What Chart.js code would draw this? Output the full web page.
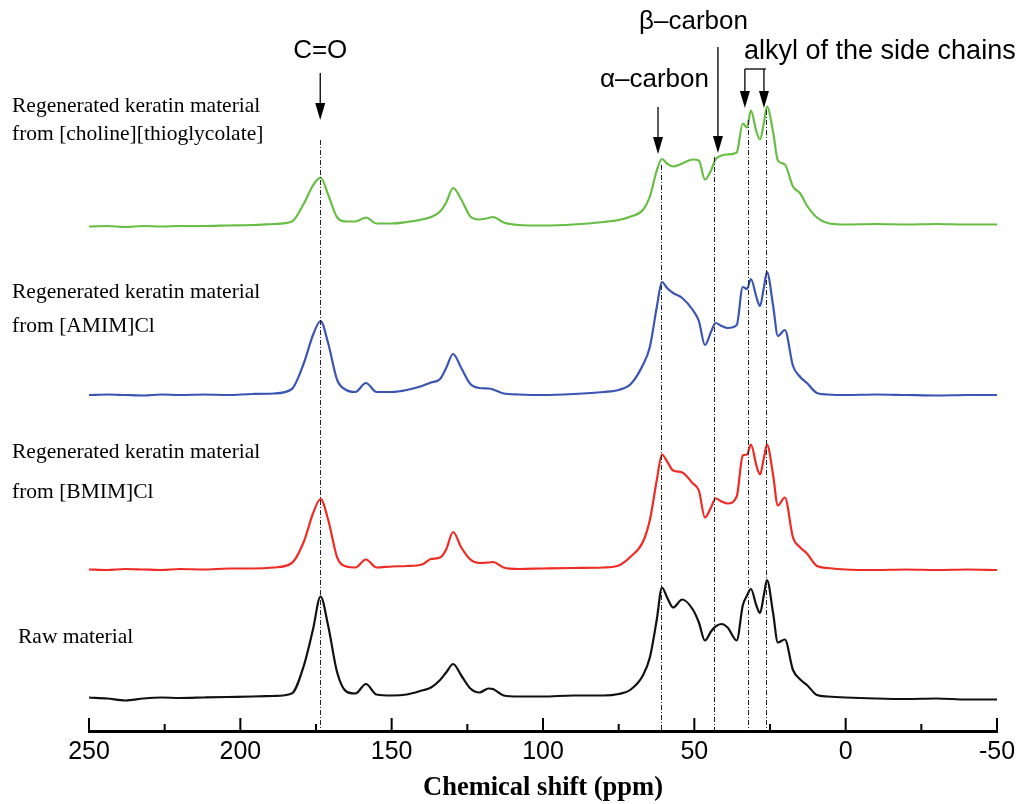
<!DOCTYPE html>
<html>
<head>
<meta charset="utf-8">
<script src="https://cdn.jsdelivr.net/npm/chart.js@4/dist/chart.umd.min.js"></script>
<style>
  html, body { margin:0; padding:0; background:#fff; }
</style>
</head>
<body>
<canvas id="nmr-chart" width="1019" height="804"></canvas>
<script>

// chemical shift grid (ppm) shared by all four spectra
let ppm = [250, 244, 238, 232, 226, 220, 212, 204, 196, 189,
  183, 179, 176, 173.5, 171, 168, 165, 162, 158.5, 155,
  150, 145, 140, 137, 134, 132, 129.7, 127, 124, 121,
  118, 116.5, 113, 108, 100, 90, 80, 75, 71, 67,
  64.7, 62.4, 60.7, 59, 57, 54, 50.5, 48.5, 46.5, 44.5,
  43, 41, 39, 36, 34, 32.6, 31.3, 29.5, 28.3, 27,
  26, 24, 22.4, 20.1, 17.4, 15, 12.8, 9.5, 6, 0,
  -10, -20, -30, -40, -50];

// intensities above each baseline (arbitrary units)
let rawMaterial = [0, -1, -3, -1, 0, -0.5, 0, 0.5, 1, 1.5,
  4, 32, 68, 101, 72, 25, 6, 4, 13.5, 3,
  2, 3, 7, 10, 17.5, 25, 33.5, 22, 9, 5,
  9, 8.5, 2, 1, 1, 2, 2, 3.5, 8, 22,
  40, 78, 110, 100, 90, 98, 88, 75, 57, 66,
  71, 73.5, 70, 57, 92, 102, 108.5, 92, 84.5, 103,
  117.5, 85, 55, 58, 27.5, 18, 12.5, 2.5, 1, 0,
  -1, -1.5, -1, -2, -2];

let bmimCl = [0, -0.5, 0.5, 0, -0.5, 0.5, 0, 1, 1, 2,
  6.5, 28, 56, 70.5, 50, 12, 3, 2, 10, 2,
  3, 3.5, 5, 10.5, 12, 20, 37.5, 22, 10, 6.5,
  7, 7.5, 2, 0.5, 1, 1.5, 2, 4, 13, 27.5,
  49.5, 89.5, 115, 108, 99, 97, 86, 79, 52, 62,
  71, 68, 66, 73, 114, 115, 125, 104, 95, 112,
  125, 95, 64, 72, 32, 22, 16, 3.5, 1.5, 0,
  -0.5, 0, -0.5, 0, -0.5];

let amimCl = [0, 0.5, 0, -0.5, 0.5, 0, 0.5, 0, 1, 1.5,
  6, 32, 60, 74, 52, 15, 5, 3, 12, 3,
  3, 5, 9, 12.5, 16, 27, 41, 27, 11, 7,
  6.5, 5.5, 1.5, 0.5, 0, 1, 3, 5, 11, 30,
  48, 88, 113, 107, 102, 97, 85, 74, 50, 63,
  72, 69, 67, 70, 108, 106, 116, 98, 89, 108,
  123, 90, 59, 65, 29, 18, 12, 2, 0.5, 0,
  0.5, 0, -0.5, 0, 0];

let cholineThio = [0, 0.5, -0.5, 0.5, 0, 0.5, 0.5, 1, 1.5, 2.5,
  5, 23, 41, 49, 32, 9, 5, 5, 9, 3,
  3, 4.5, 7, 9.5, 15, 24, 38.5, 27, 10, 7,
  8.5, 9.5, 4, 1.5, 1, 2, 4.5, 6.5, 10, 16.5,
  30, 56, 67.5, 63, 60, 63, 67, 66, 47, 56,
  67, 71, 72, 74, 103, 99, 116, 95, 87, 104,
  120, 95, 66, 62, 40, 33, 21, 9, 3.5, 2,
  2.5, 2, 2.5, 2, 2];

let majorTicks = [250, 200, 150, 100, 50, 0, -50];

// vertical stacking of the traces
let stackOffset = { raw: 33.5, bmim: 161.5, amim: 336, choline: 504.5 };

function toPoints(values, offset){
  let pts = [];
  for(let i = 0; i < ppm.length; i++){
    pts.push({ x: ppm[i], y: values[i] + offset });
  }
  return pts;
}

function drawArrow(ctx, x, y1, y2){
  ctx.beginPath();
  ctx.moveTo(x, y1);
  ctx.lineTo(x, y2 - 14);
  ctx.stroke();
  ctx.beginPath();
  ctx.moveTo(x - 5, y2 - 17);
  ctx.lineTo(x + 5, y2 - 17);
  ctx.lineTo(x, y2);
  ctx.closePath();
  ctx.fill();
}

let marksPlugin = {
  id: 'nmrMarks',
  afterDraw(chart){
    let ctx = chart.ctx;
    let xs = chart.scales.x;
    let area = chart.chartArea;
    ctx.save();

    // ticks point up into the plot
    ctx.strokeStyle = '#000';
    ctx.lineWidth = 2;
    xs.ticks.forEach(function(t){
      let px = xs.getPixelForValue(t.value);
      let len = majorTicks.includes(t.value) ? 13 : 7;
      ctx.beginPath();
      ctx.moveTo(px, area.bottom);
      ctx.lineTo(px, area.bottom - len);
      ctx.stroke();
    });

    // dash-dot guide lines
    let guides = [[173.6, 140], [61, 165], [43.5, 157], [32.2, 120], [26.3, 110]];
    ctx.lineWidth = 1;
    ctx.strokeStyle = '#222';
    ctx.setLineDash([5, 2, 1, 2]);
    guides.forEach(function(g){
      let px = Math.round(xs.getPixelForValue(g[0])) + 0.5;
      ctx.beginPath();
      ctx.moveTo(px, g[1]);
      ctx.lineTo(px, area.bottom);
      ctx.stroke();
    });
    ctx.setLineDash([]);

    // arrows
    ctx.strokeStyle = '#000';
    ctx.fillStyle = '#000';
    ctx.lineWidth = 1.3;
    drawArrow(ctx, xs.getPixelForValue(173.6), 73, 120);
    drawArrow(ctx, xs.getPixelForValue(62), 107, 154);
    drawArrow(ctx, xs.getPixelForValue(42.2), 47, 153);
    let a1 = xs.getPixelForValue(33.3), a2 = xs.getPixelForValue(27);
    drawArrow(ctx, a1, 69, 108);
    drawArrow(ctx, a2, 69, 108);
    ctx.beginPath();
    ctx.moveTo(a1, 69);
    ctx.lineTo(a2 + 2, 69);
    ctx.stroke();

    // peak assignments
    ctx.textBaseline = 'middle';
    ctx.font = '26px "Liberation Sans", Arial, sans-serif';
    ctx.textAlign = 'center';
    ctx.fillText('C=O', xs.getPixelForValue(173.6), 51);
    ctx.textAlign = 'left';
    ctx.fillText('\u03b2\u2013carbon', 639, 22);
    ctx.fillText('\u03b1\u2013carbon', 600, 80);
    ctx.font = '27px "Liberation Sans", Arial, sans-serif';
    ctx.fillText('alkyl of the side chains', 744, 52);

    // sample names
    ctx.font = '21.5px "Liberation Serif", "Times New Roman", serif';
    ctx.fillText('Regenerated keratin material', 12, 106);
    ctx.fillText('from [choline][thioglycolate]', 12, 134);
    ctx.fillText('Regenerated keratin material', 12, 292);
    ctx.fillText('from [AMIM]Cl', 12, 326);
    ctx.fillText('Regenerated keratin material', 12, 452);
    ctx.fillText('from [BMIM]Cl', 12, 492);
    ctx.fillText('Raw material', 18, 637);

    ctx.restore();
  }
};

function lineSet(label, values, offset, color){
  return {
    label: label,
    data: toPoints(values, offset),
    borderColor: color,
    borderWidth: 2.2,
    pointRadius: 0,
    fill: false,
    cubicInterpolationMode: 'monotone'
  };
}

let ctx = document.getElementById('nmr-chart').getContext('2d');
let myChart = new Chart(ctx, {
  type: 'line',
  data: {
    datasets: [
      lineSet('Raw material', rawMaterial, stackOffset.raw, '#111111'),
      lineSet('[BMIM]Cl', bmimCl, stackOffset.bmim, '#ee2b24'),
      lineSet('[AMIM]Cl', amimCl, stackOffset.amim, '#3b55b2'),
      lineSet('[choline][thioglycolate]', cholineThio, stackOffset.choline, '#68bd45')
    ]
  },
  options: {
    responsive: false,
    animation: false,
    layout: { padding: { left: 89, right: 22, top: 0, bottom: 0 } },
    plugins: {
      legend: { display: false },
      tooltip: { enabled: false }
    },
    scales: {
      x: {
        type: 'linear',
        reverse: true,
        min: -50,
        max: 250,
        grid: { display: false, drawTicks: false },
        border: { display: true, color: '#000', width: 3 },
        ticks: {
          stepSize: 25,
          padding: 6,
          color: '#000',
          font: { family: '"Liberation Sans", Arial, sans-serif', size: 25 },
          callback: function(v){ return majorTicks.includes(v) ? String(v) : ''; }
        },
        title: {
          display: true,
          text: 'Chemical shift (ppm)',
          color: '#000',
          font: { family: '"Liberation Serif", "Times New Roman", serif', size: 26.5, weight: 'bold' },
          padding: { top: 0, bottom: 0 }
        },
        afterFit: function(scale){
          scale.height = 73;
          scale.paddingLeft = 0;
          scale.paddingRight = 0;
        }
      },
      y: {
        display: false,
        min: 0,
        max: 731
      }
    }
  },
  plugins: [marksPlugin]
});
</script>
</body>
</html>
